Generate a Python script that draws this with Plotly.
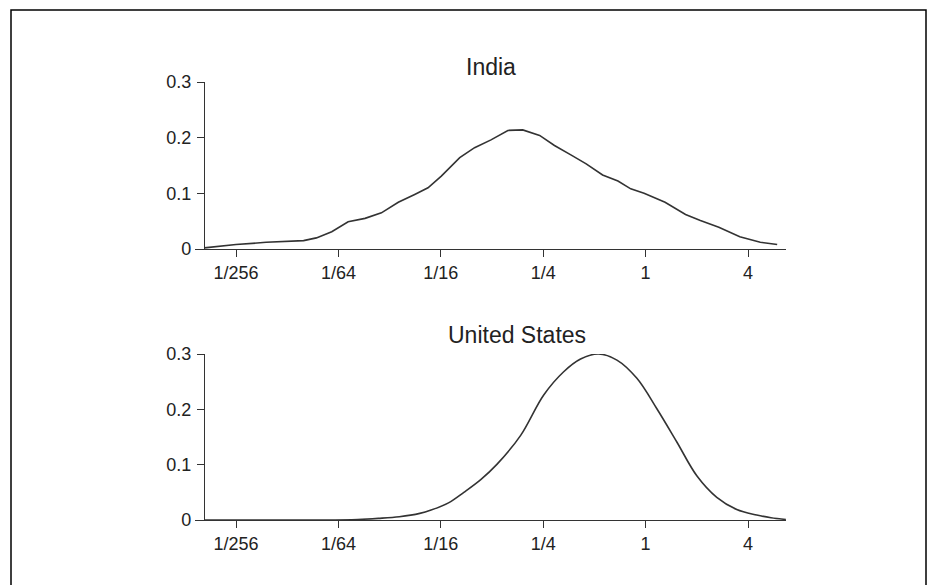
import plotly.graph_objects as go

# ---- data (x positions as log2 of income ratio; y = density) ----
tick_log2 = [-8, -6, -4, -2, 0, 2]
tick_labels = ["1/256", "1/64", "1/16", "1/4", "1", "4"]

india_log2 = [-8.62, -8.0, -7.41, -7.0, -6.68, -6.43, -6.13, -5.81, -5.48, -5.16,
              -4.83, -4.51, -4.25, -3.99, -3.63, -3.34, -3.02, -2.69, -2.40, -2.07,
              -1.78, -1.46, -1.16, -0.84, -0.54, -0.29, -0.03, 0.38, 0.78, 1.07,
              1.43, 1.84, 2.24, 2.57]
india_density = [0.002, 0.008, 0.012, 0.013, 0.015, 0.020, 0.031, 0.049, 0.055, 0.065,
                 0.084, 0.098, 0.110, 0.131, 0.164, 0.182, 0.196, 0.213, 0.214, 0.204,
                 0.186, 0.169, 0.153, 0.133, 0.122, 0.108, 0.100, 0.084, 0.062, 0.051,
                 0.039, 0.022, 0.012, 0.008]

us_log2 = [-8.62, -7.0, -6.27, -5.62, -5.22, -4.81, -4.41, -4.19, -3.85, -3.55,
           -3.22, -2.90, -2.44, -1.99, -1.60, -1.27, -0.92, -0.56, -0.17, 0.22,
           0.61, 1.0, 1.39, 1.78, 2.17, 2.45, 2.74]
us_density = [0.0, 0.0, 0.0, 0.001, 0.003, 0.006, 0.012, 0.018, 0.031, 0.050,
              0.073, 0.101, 0.153, 0.226, 0.268, 0.291, 0.300, 0.289, 0.256, 0.201,
              0.141, 0.080, 0.041, 0.019, 0.009, 0.004, 0.001]

titles = ["India", "United States"]

# ---- layout geometry ----
W, H = 938, 585
LINE = "#333333"
TXT = "#222222"
FONT = "Liberation Sans, Arial, sans-serif"

xdom = [195 / W, 786 / W]
px_per_log2 = 51.2
x_left = -8 + (195 - 236) / px_per_log2
x_right = -8 + (786 - 236) / px_per_log2
xr = [x_left, x_right]

fig = go.Figure()
fig.add_trace(go.Scatter(x=india_log2, y=india_density, mode="lines",
                         line=dict(color=LINE, width=1.6), xaxis="x", yaxis="y",
                         showlegend=False, hoverinfo="skip"))
fig.add_trace(go.Scatter(x=us_log2, y=us_density, mode="lines", line_shape="spline",
                         line=dict(color=LINE, width=1.6), xaxis="x2", yaxis="y2",
                         showlegend=False, hoverinfo="skip"))

axis_common = dict(showgrid=False, zeroline=False, showline=True, linecolor=LINE,
                   linewidth=1.3, ticks="outside", ticklen=7, tickwidth=1.3,
                   tickcolor=LINE, automargin=False,
                   tickfont=dict(family=FONT, size=18, color=TXT))

xax = dict(axis_common, range=xr, domain=xdom, tickmode="array",
           tickvals=tick_log2, ticktext=tick_labels)
yax = dict(axis_common, range=[0, 0.3], tickmode="array",
           tickvals=[0, 0.1, 0.2, 0.3], ticktext=["0", "0.1", "0.2", "0.3"],
           anchor="free", position=204 / W, ticklabelstandoff=2)

fig.update_layout(
    width=W, height=H, autosize=False,
    margin=dict(l=0, r=0, t=0, b=0, pad=0, autoexpand=False),
    paper_bgcolor="white", plot_bgcolor="white",
    xaxis=dict(xax, anchor="y"),
    yaxis=dict(yax, domain=[(H - 249) / H, (H - 82) / H]),
    xaxis2=dict(xax, anchor="y2"),
    yaxis2=dict(yax, domain=[(H - 520) / H, (H - 354) / H]),
    annotations=[
        dict(text=titles[0], x=491 / W, y=(H - 67) / H, xref="paper", yref="paper",
             showarrow=False, xanchor="center", yanchor="middle",
             font=dict(family=FONT, size=23, color=TXT)),
        dict(text=titles[1], x=517 / W, y=(H - 335) / H, xref="paper", yref="paper",
             showarrow=False, xanchor="center", yanchor="middle",
             font=dict(family=FONT, size=23, color=TXT)),
    ],
    shapes=[
        dict(type="path", xref="paper", yref="paper",
             path=f"M {11/W},-0.05 L {11/W},{(H-10)/H} L {926/W},{(H-10)/H} L {926/W},-0.05",
             line=dict(color="black", width=1.5)),
    ],
)

fig.write_html(
    "out.html",
    config={"responsive": False, "displayModeBar": False},
    post_script="document.body.style.margin='0';document.body.style.overflow='hidden';",
)
